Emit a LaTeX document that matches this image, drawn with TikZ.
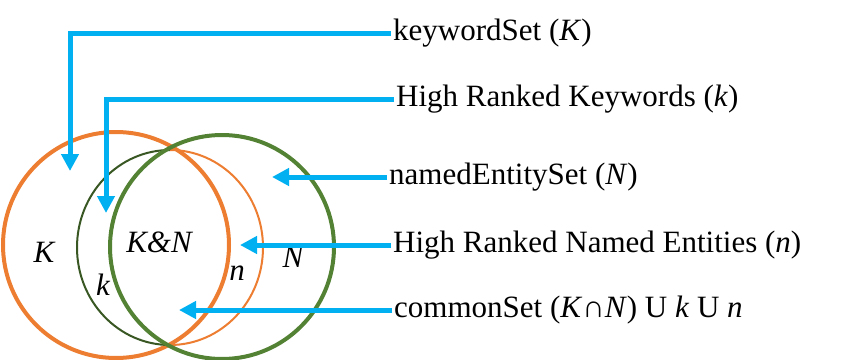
\documentclass[tikz,border=0pt]{standalone}
\usepackage{fontspec}
\setmainfont{Liberation Serif}
\usepackage{xcolor}
\usepackage{tikz}
\definecolor{setorange}{RGB}{237,125,49}
\definecolor{setgreen}{RGB}{84,130,53}
\definecolor{setdarkgreen}{RGB}{56,87,35}
\definecolor{pointerblue}{RGB}{0,176,240}
\usetikzlibrary{arrows.meta,positioning,calc}

\begin{document}
\begin{tikzpicture}[
    x=1pt, y=1pt,
    settext/.style={anchor=west, inner sep=2pt, font=\fontsize{31}{37}\selectfont},
    setname/.style={anchor=base, inner sep=0pt, font=\fontsize{31}{37}\selectfont\itshape},
    arrow/.style={-{Triangle[width=17pt,length=17pt]}, line width=5pt, pointerblue}
]
\useasboundingbox (0,0) rectangle (843,-359);

% Sets
\draw[setorange, line width=4pt] (116,-245) circle (113);
\draw[setdarkgreen, line width=2pt] (170,-150) arc (90:270:93 and 97.5);
\draw[setorange, line width=2pt] (170,-150) arc (90:-90:93 and 97.5);
\draw[setgreen, line width=4pt] (222,-247) circle (112);

% Set names
\node[setname] (Kname) at (44,-262) {K};
\node[setname] (KNname) at (159,-252) {K\&N};
\node[setname] (kname) at (103,-295) {k};
\node[setname] (nname) at (237,-280) {n};
\node[setname] (Nname) at (293,-267) {N};

% Descriptions
\node[settext] (kwset) at (391,-33) {keywordSet (\textit{K})};
\node[settext] (hrk) at (394,-99) {High Ranked Keywords (\textit{k})};
\node[settext] (neset) at (387,-177) {namedEntitySet (\textit{N})};
\node[settext] (hrne) at (391,-245) {High Ranked Named Entities (\textit{n})};
\node[settext] (cset) at (392,-310) {commonSet (\textit{K}∩\textit{N}) U \textit{k} U \textit{n}};

% Arrow tips
\coordinate (kwtip) at (70,-171);
\coordinate (hrktip) at (106,-213);
\coordinate (netip) at (272,-177);
\coordinate (hrnetip) at (240,-245);
\coordinate (ctip) at (179,-310);

% Arrows
\draw[arrow] (kwset.west) -| (kwtip);
\draw[arrow] (hrk.west) -| (hrktip);
\draw[arrow] (neset.west) -- (netip);
\draw[arrow] (hrne.west) -- (hrnetip);
\draw[arrow] (cset.west) -- (ctip);

\end{tikzpicture}
\end{document}
